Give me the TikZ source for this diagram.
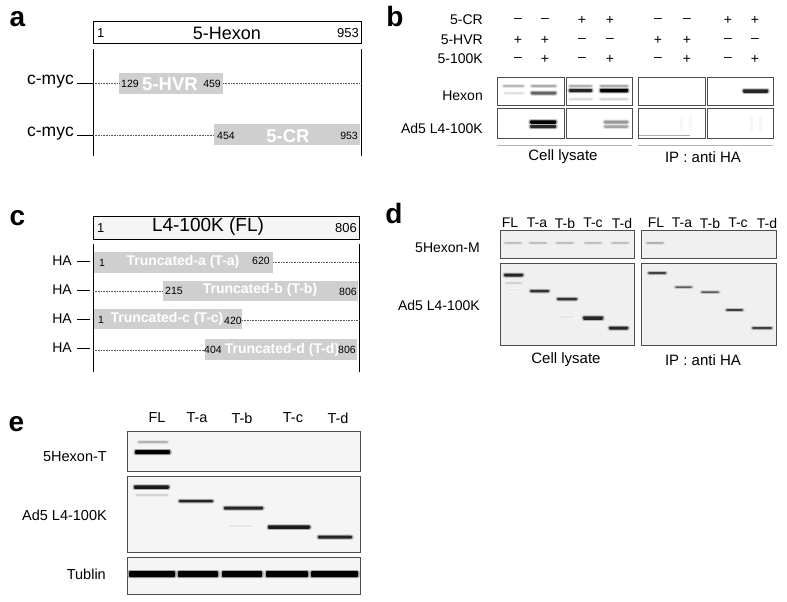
\documentclass[tikz,border=0pt]{standalone}
\usepackage{fontspec}
\setmainfont{Liberation Sans}
\newcommand\fsz[1]{\fontsize{#1}{#1}\selectfont}
% band: x1, x2, y, height, colour
\newcommand\bnd[5]{%
  \colorlet{bndc}{#5}%
  \fill[bndc!35!white, rounded corners=1.5pt] ({#1-1.5},{#3-#4/2-1}) rectangle ({#2+1.5},{#3+#4/2+1});
  \fill[bndc, rounded corners=1pt] (#1,{#3-#4/2}) rectangle (#2,{#3+#4/2});}
\tikzset{
  plet/.style={font=\fsz{28}\bfseries, anchor=base},
  hdrbox/.style={draw, line width=1pt},
  gbox/.style={fill=gray!38},
  num/.style={font=\fsz{10.5}, inner sep=0pt},
  hnum/.style={font=\fsz{13}, inner sep=0pt},
  wtxt/.style={text=white, font=\bfseries, inner sep=0pt},
  vline/.style={line width=0.9pt},
  dotl/.style={densely dotted, line width=0.6pt, gray!70!black},
  rowlab/.style={font=\fsz{14}, anchor=east, inner sep=1pt},
  blot/.style={draw=gray!60!black, line width=0.8pt},
  ulin/.style={draw=gray!60, line width=1pt},
  sgn/.style={font=\fsz{14}, inner sep=0pt},
  lane/.style={font=\fsz{14}, inner sep=0pt},
  captxt/.style={font=\fsz{15}},
}
\begin{document}
\begin{tikzpicture}[x=1pt,y=-1pt]
\useasboundingbox (0,0) rectangle (787,602);
\fill[white] (0,0) rectangle (787,602);

%% ---------------- panel a ----------------
\node[plet] (la) at (17.5,27) {a};
\draw[hdrbox] (93,22) rectangle (361,44);
\node[hnum, anchor=west] (a1) at (97,33) {1};
\node[font=\fsz{18}, inner sep=0pt] (ahex) at (227,33) {5-Hexon};
\node[hnum, anchor=east] (a953) at (359,33) {953};
\draw[vline] (93,49) -- (93,156);
\draw[vline] (361,49) -- (361,156);
% row HVR
\node[font=\fsz{17.5}, anchor=east, inner sep=1pt] (cm1) at (75,82) {c-myc};
\coordinate (cm1e) at (93,83);
\draw[line width=0.9pt] (77,83) -- (cm1e);
\fill[gbox] (119,73) rectangle (223,94);
\draw[dotl] (93,83) -- (119,83);
\draw[dotl] (223,83) -- (361,83);
\node[num, anchor=west] (n129) at (121,84) {129};
\node[wtxt, font=\fsz{18.5}\bfseries] (hvr) at (170,84) {5-HVR};
\node[num, anchor=east] (n459) at (221,84) {459};
% row CR
\node[font=\fsz{17.5}, anchor=east, inner sep=1pt] (cm2) at (75,134) {c-myc};
\coordinate (cm2e) at (93,135);
\draw[line width=0.9pt] (77,135) -- (cm2e);
\fill[gbox] (214,124) rectangle (360,145);
\draw[dotl] (93,135) -- (214,135);
\node[num, anchor=west] (n454) at (217,136) {454};
\node[wtxt, font=\fsz{18.5}\bfseries] (cr) at (288,136) {5-CR};
\node[num, anchor=east] (n953) at (358,136) {953};

%% ---------------- panel b ----------------
\node[plet] (lb) at (395,27) {b};
\node[rowlab] (bcr) at (484,20) {5-CR};
\node[rowlab] (bhvr) at (484,40) {5-HVR};
\node[rowlab] (b100) at (484,59) {5-100K};
\node[rowlab] (bhex) at (484,96) {Hexon};
\node[rowlab] (bad5) at (484,128) {Ad5 L4-100K};
\foreach \x/\s in {518/–,545/–,582/+,610/+,658/–,687/–,728/+,755/+}
  {\node[sgn] at (\x,20) {\s};}
\foreach \x/\s in {518/+,545/+,582/–,610/–,658/+,687/+,728/–,755/–}
  {\node[sgn] at (\x,40) {\s};}
\foreach \x/\s in {518/–,545/+,582/–,610/+,658/–,687/+,728/–,755/+}
  {\node[sgn] at (\x,59) {\s};}
% blot boxes
\foreach \a/\b in {497/564,566/632,638/705,707/773}{
  \draw[blot, fill=white] (\a,77) rectangle (\b,105);
  \draw[blot, fill=white] (\a,108) rectangle (\b,138);
}
% Hexon bands
\bnd{503}{524}{86}{1.8}{gray!55}
\bnd{504}{524}{93}{1.5}{gray!25}
\bnd{531}{556}{86}{2}{gray!65}
\bnd{531}{556}{93}{3}{gray!80!black}
\bnd{569}{592}{86}{2}{gray!60}
\bnd{569}{592}{90.5}{3}{black!85}
\bnd{569}{592}{99}{1.5}{gray!30}
\bnd{600}{628}{86}{2}{gray!65}
\bnd{600}{628}{90.5}{3.5}{black}
\bnd{600}{628}{99}{1.5}{gray!35}
\bnd{743}{768}{91}{3.5}{black!85}
% L4-100K bands
\bnd{530}{556}{122}{3.5}{black}
\bnd{530}{556}{126.5}{3}{black!85}
\bnd{604}{628}{122}{3}{gray!80}
\bnd{604}{628}{126.5}{2.5}{gray!70}
\fill[gray!6, rounded corners=1pt] (680,116) rectangle (683,131);
\fill[gray!6, rounded corners=1pt] (689,116) rectangle (692,131);
\fill[gray!6, rounded corners=1pt] (750,116) rectangle (753,131);
\fill[gray!6, rounded corners=1pt] (759,116) rectangle (762,131);
\draw[gray!65, line width=1pt] (639,135) -- (690,135);
\draw[ulin] (497,145) -- (632,145);
\draw[ulin] (638,145) -- (773,145);
\node[captxt] (bcl) at (563,157) {Cell lysate};
\node[captxt] (bip) at (703,157) {IP : anti HA};

%% ---------------- panel c ----------------
\node[plet] (lc) at (17.5,225) {c};
\draw[hdrbox, fill=gray!8] (93,216) rectangle (359,239);
\node[hnum, anchor=west] (c1) at (97,228) {1};
\node[font=\fsz{19}, inner sep=0pt] (cfl) at (208,227) {L4-100K (FL)};
\node[hnum, anchor=east] (c806) at (357,228) {806};
\draw[vline] (93,244) -- (93,372);
\draw[vline] (359,244) -- (359,372);
\foreach \y/\n in {261/1,290/2,319/3,348/4}{
  \node[font=\fsz{14}, anchor=east, inner sep=0pt] (ha\n) at (72,\y) {HA};
  \coordinate (hae\n) at (90,\y);
  \draw[line width=0.9pt] ([xshift=5pt]ha\n.east) -- (hae\n);
}
% T-a
\fill[gbox] (94,252) rectangle (273,273);
\draw[dotl] (273,262) -- (359,262);
\node[num, anchor=west] (ta1) at (99,263) {1};
\node[wtxt, font=\fsz{14}\bfseries] (ta) at (183,262) {Truncated-a (T-a)};
\node[num] (ta620) at (261,261) {620};
% T-b
\fill[gbox] (163,281) rectangle (358,301);
\draw[dotl] (93,291) -- (163,291);
\node[num, anchor=west] (tb215) at (165,291) {215};
\node[wtxt, font=\fsz{14}\bfseries] (tb) at (260,290) {Truncated-b (T-b)};
\node[num] (tb806) at (348,292) {806};
% T-c
\fill[gbox] (94,309) rectangle (242,329);
\draw[dotl] (242,320) -- (359,320);
\node[num, anchor=west] (tc1) at (98,320) {1};
\node[wtxt, font=\fsz{14}\bfseries] (tc) at (167,319) {Truncated-c (T-c)};
\node[num] (tc420) at (233,321) {420};
% T-d
\fill[gbox] (205,339) rectangle (357,360);
\draw[dotl] (93,350) -- (205,350);
\node[num] (td404) at (213,350) {404};
\node[wtxt, font=\fsz{14}\bfseries] (td) at (282,350) {Truncated-d (T-d)};
\node[num] (td806) at (347,350) {806};

%% ---------------- panel d ----------------
\node[plet] (ld) at (394,223) {d};
\foreach \x/\t in {510/FL,537/T-a,565/T-b,593/T-c,622/T-d,656/FL,682/T-a,710/T-b,738/T-c,767/T-d}
  {\node[lane] at (\x,223) {\t};}
\node[rowlab] (dhm) at (481,248) {5Hexon-M};
\node[rowlab] (dad5) at (481,305) {Ad5 L4-100K};
\node[captxt] (dcl) at (566,360) {Cell lysate};
\node[captxt] (dip) at (703,360) {IP : anti HA};
\draw[blot, fill=gray!12] (500,230) rectangle (634,258);
\draw[blot, fill=gray!12] (641,230) rectangle (776,258);
\draw[blot, fill=gray!12] (500,263) rectangle (634,345);
\draw[blot, fill=gray!12] (641,263) rectangle (776,345);
\foreach \x in {513,538,565,593,620}
  {\bnd{\x-9}{\x+9}{243}{1.6}{gray!50}}
\bnd{646}{664}{243}{1.8}{gray!60}
\bnd{504}{523}{275}{3}{black!85}
\bnd{505}{522}{283}{2}{gray!35}
\bnd{506}{520}{290}{1.5}{gray!18}
\bnd{530}{549}{291}{2.5}{black!80}
\bnd{557}{577}{299}{2.5}{black!80}
\bnd{559}{575}{317}{1.5}{gray!22}
\bnd{583}{603}{318}{3.5}{black!85}
\bnd{609}{628}{328}{3}{black!85}
\bnd{648}{666}{273}{2}{black!75}
\bnd{675}{692}{287}{1.5}{gray!75!black}
\bnd{701}{719}{292}{1.5}{gray!70!black}
\bnd{726}{743}{310}{1.8}{black!75}
\bnd{752}{772}{328}{2}{black!75}

%% ---------------- panel e ----------------
\node[plet] (le) at (16.5,431) {e};
\foreach \x/\t in {157/FL,197/T-a,242/T-b,293/T-c,338/T-d}
  {\node[lane, font=\fsz{14.5}] at (\x,418) {\t};}
\node[rowlab, font=\fsz{14.5}] (ehx) at (108,457) {5Hexon-T};
\node[rowlab, font=\fsz{14.5}] (ead5) at (108,515) {Ad5 L4-100K};
\node[rowlab, font=\fsz{14.5}] (etub) at (107,574) {Tublin};
\draw[blot, fill=gray!8] (127,431) rectangle (360,471);
\draw[blot, fill=gray!8] (127,476) rectangle (360,552);
\draw[blot, fill=gray!8] (127,557) rectangle (360,594);
\bnd{138}{168}{442}{2}{gray!60}
\bnd{135}{170}{452}{4}{black}
\bnd{134}{169}{487}{3.5}{black!90}
\bnd{136}{168}{495}{2}{gray!35}
\bnd{179}{213}{501}{2.5}{black!85}
\bnd{224}{263}{508}{3}{black!85}
\bnd{229}{253}{526}{1.5}{gray!20}
\bnd{268}{310}{527}{3.5}{black!90}
\bnd{318}{352}{537}{3}{black!85}
\foreach \a/\b in {129/175,178/218,222/262,266/308,311/358}
  {\bnd{\a}{\b}{574}{6}{black}}
\end{tikzpicture}
\end{document}
